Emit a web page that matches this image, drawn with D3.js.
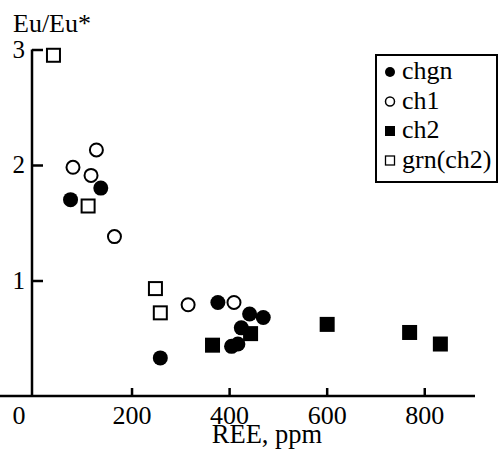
<!DOCTYPE html>
<html><head><meta charset="utf-8">
<script src="https://cdn.jsdelivr.net/npm/d3@7"></script>
<style>body{margin:0;background:#fff}svg{display:block}text{font-family:"Liberation Serif","DejaVu Serif","Times New Roman",serif;fill:#000}</style>
</head><body>
<script>
// Data: [REE ppm, Eu/Eu*]
const chgn = [[75,1.70],[137,1.80],[259,0.33],[377,0.81],[405,0.43],[418,0.45],[425,0.59],[442,0.71],[470,0.68]];
const ch1 = [[80,1.98],[117,1.91],[128,2.13],[165,1.38],[316,0.79],[410,0.81]];
const ch2 = [[366,0.44],[444,0.54],[601,0.62],[770,0.55],[833,0.45]];
const grn = [[40,2.95],[111,1.645],[249,0.93],[259,0.72]];
const xTicks = [200,400,600,800];
const yTicks = [1,2,3];
const legendLabels = ["chgn","ch1","ch2","grn(ch2)"];

const W=498,H=454;
const FF='"Liberation Serif","DejaVu Serif","Times New Roman",serif';
const svg=d3.select("body").append("svg").attr("width",W).attr("height",H);
const x=d3.scaleLinear().domain([-4,904]).range([32,475]);
const y=d3.scaleLinear().domain([0,3]).range([396,49.5]);

// axes
const xAxis=svg.append("g").attr("transform",`translate(0,${y(0)})`)
  .call(d3.axisBottom(x).tickValues(xTicks).tickFormat(d3.format("d")).tickSizeInner(-8).tickSizeOuter(0).tickPadding(10));
const yAxis=svg.append("g").attr("transform",`translate(${x(-4)},0)`)
  .call(d3.axisLeft(y).tickValues(yTicks).tickFormat(d3.format("d")).tickSizeInner(-11).tickSizeOuter(0).tickPadding(7));
[xAxis,yAxis].forEach(a=>{
  a.attr("font-family",FF);
  a.select(".domain").attr("stroke","#000").attr("stroke-width",2.5);
  a.selectAll(".tick line").attr("stroke","#000").attr("stroke-width",2.5);
  a.selectAll("text").style("font-family",FF).attr("fill","#000");
});
xAxis.selectAll("text").style("font-size","26px");
yAxis.selectAll("text").style("font-size","25px").attr("dy","0.3em");
yAxis.select(".domain").attr("d",`M0,${y(3)}V${y(0)+1}`);
xAxis.select(".domain").attr("d",`M-1,0H${x(904)}`);

svg.append("text").attr("x",19).attr("y",424).attr("text-anchor","middle").style("font-size","26px").text("0");
svg.append("text").attr("x",267).attr("y",443).attr("text-anchor","middle").style("font-size","26.5px").text("REE, ppm");
svg.append("text").attr("x",13).attr("y",32).style("font-size","26px").text("Eu/Eu*");

const g=svg.append("g");
const R=7.5, S=15;
g.selectAll(".grn").data(grn).join("rect").attr("x",d=>x(d[0])-S/2+1).attr("y",d=>y(d[1])-S/2+1)
  .attr("width",S-2).attr("height",S-2).attr("fill","#fff").attr("stroke","#000").attr("stroke-width",2);
g.selectAll(".ch1").data(ch1).join("circle").attr("cx",d=>x(d[0])).attr("cy",d=>y(d[1])).attr("r",R-1)
  .attr("fill","#fff").attr("stroke","#000").attr("stroke-width",2);
g.selectAll(".ch2").data(ch2).join("rect").attr("x",d=>x(d[0])-S/2).attr("y",d=>y(d[1])-S/2)
  .attr("width",S).attr("height",S).attr("fill","#000");
g.selectAll(".chgn").data(chgn).join("circle").attr("cx",d=>x(d[0])).attr("cy",d=>y(d[1])).attr("r",R).attr("fill","#000");

// legend
const lg=svg.append("g");
lg.append("rect").attr("x",376).attr("y",55).attr("width",121).attr("height",127)
  .attr("fill","#fff").attr("stroke","#000").attr("stroke-width",2);
const rowY=i=>72+i*29.5;
legendLabels.forEach((t,i)=>{
  const cy=rowY(i);
  if(i===0) lg.append("circle").attr("cx",390).attr("cy",cy).attr("r",5).attr("fill","#000");
  if(i===1) lg.append("circle").attr("cx",390).attr("cy",cy).attr("r",4.5).attr("fill","#fff").attr("stroke","#000").attr("stroke-width",1.5);
  if(i===2) lg.append("rect").attr("x",385).attr("y",cy-5).attr("width",10).attr("height",10).attr("fill","#000");
  if(i===3) lg.append("rect").attr("x",385.5).attr("y",cy-4.5).attr("width",9).attr("height",9).attr("fill","#fff").attr("stroke","#000").attr("stroke-width",1.3);
  lg.append("text").attr("x",402).attr("y",cy+7).style("font-size","26px").text(t);
});
</script>
</body></html>
